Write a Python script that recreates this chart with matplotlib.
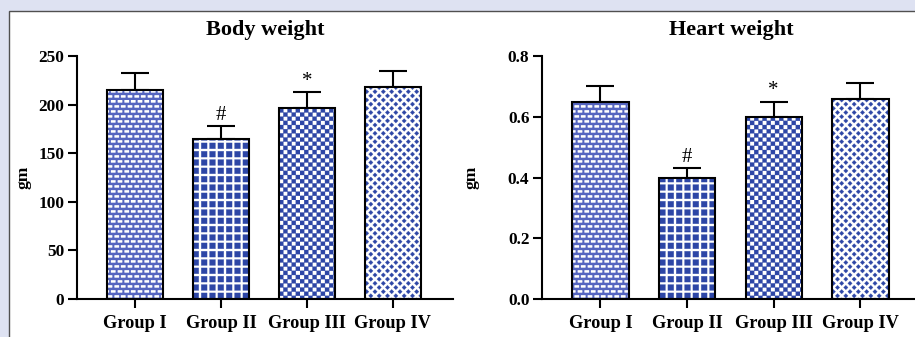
import numpy as np
import matplotlib
matplotlib.use("Agg")
import matplotlib.pyplot as plt
import matplotlib.hatch as mhatch
from matplotlib.path import Path
from matplotlib.patches import Rectangle

# ---------------- data ----------------
groups = ["Group I", "Group II", "Group III", "Group IV"]
body_weight = [215, 165, 197, 218]
body_err = [17, 13, 16, 17]
heart_weight = [0.65, 0.40, 0.60, 0.66]
heart_err = [0.05, 0.03, 0.05, 0.05]
body_marks = ["", "#", "*", ""]
heart_marks = ["", "#", "*", ""]
body_ticks = [0, 50, 100, 150, 200, 250]
heart_ticks = [0.0, 0.2, 0.4, 0.6, 0.8]

# ---------------- custom fill patterns (unit tile) ----------------
def _rect(x0, y0, w, h):
    return [(x0, y0), (x0 + w, y0), (x0 + w, y0 + h), (x0, y0 + h)]

def _diamond(cx, cy, r):
    return [(cx - r, cy), (cx, cy - r), (cx + r, cy), (cx, cy + r)]

def _wrap(polys):
    out = []
    for poly in polys:
        arr = np.array(poly)
        for dx in (-1, 0, 1):
            for dy in (-1, 0, 1):
                s = arr + [dx, dy]
                if s[:, 0].max() <= 0 or s[:, 0].min() >= 1:
                    continue
                if s[:, 1].max() <= 0 or s[:, 1].min() >= 1:
                    continue
                out.append(s)
    return out

def _bricks():
    polys = []
    rows, per = 20, 15
    for r in range(rows):
        y0 = r / rows
        polys.append(_rect(0.0, y0, 1.0, 0.021))
        for k in range(per):
            x = (k + 0.5 * (r % 2)) / per
            polys.append(_rect(x - 0.008, y0 + 0.021, 0.016, 1 / rows - 0.021))
    return polys

def _squares():
    n = 12
    p = 1 / n
    s = 0.058
    return [_rect(i * p + (p - s) / 2, j * p + (p - s) / 2, s, s)
            for i in range(n) for j in range(n)]

def _checker():
    n = 24
    p = 1 / n
    return [_rect(i * p, j * p, p, p)
            for i in range(n) for j in range(n) if (i + j) % 2 == 0]

def _diamonds():
    p = 1 / 12
    polys = []
    for j in range(24):
        for i in range(12):
            cx = (i + 0.5 * (j % 2)) * p
            cy = j * p / 2
            polys.append(_diamond(cx, cy, 0.022))
    return polys

_PATTERNS = {"--": _bricks, "++": _squares, "xx": _checker, "..": _diamonds}

class _TileHatch:
    def __init__(self, hatch, density):
        polys = _wrap(_PATTERNS[hatch]()) if hatch in _PATTERNS else []
        verts, codes = [], []
        for poly in polys:
            verts.extend(list(poly) + [poly[0]])
            codes.extend([Path.MOVETO] + [Path.LINETO] * (len(poly) - 1) + [Path.CLOSEPOLY])
        self.verts = np.array(verts, dtype=float).reshape(-1, 2)
        self.codes = np.array(codes, dtype=Path.code_type)
        self.num_vertices = len(self.verts)

    def set_vertices_and_codes(self, vertices, codes):
        vertices[:] = self.verts
        codes[:] = self.codes

mhatch._hatch_types[:] = [_TileHatch]

# ---------------- styling ----------------
plt.rcParams["font.family"] = ["Liberation Serif", "DejaVu Serif"]
plt.rcParams["hatch.linewidth"] = 0.2

BLUE = "#2d46a6"
BRICK = "#5565c0"
hatches = ["--", "++", "xx", ".."]
hatch_colors = [BRICK, BLUE, BLUE, BLUE]

fig = plt.figure(figsize=(9.15, 3.37), dpi=100)
fig.patch.set_facecolor("#dee2f2")
fig.patches.append(Rectangle((9 / 915, -0.2), 1.2, 0.2 + (337 - 11) / 337,
                             transform=fig.transFigure, facecolor="white",
                             edgecolor="#505050", lw=1.0, zorder=-5))

H = 243 / 337
B = 38 / 337
ax1 = fig.add_axes([77 / 915, B, 376 / 915, H])
ax2 = fig.add_axes([542 / 915, B, 379 / 915, H])


def panel(ax, title, vals, errs, marks, ticks, ymax, fmt, labx):
    ax.set_facecolor("none")
    x = np.arange(len(groups))
    w = 0.65
    for xi, v, h, hc in zip(x, vals, hatches, hatch_colors):
        ax.bar(xi, v, w, color="white", edgecolor=hc, linewidth=0, hatch=h, zorder=2)
    ax.bar(x, vals, w, fill=False, edgecolor="black", linewidth=1.5, zorder=3)
    ax.errorbar(x, vals, yerr=[np.zeros(len(vals)), errs], fmt="none",
                ecolor="black", elinewidth=1.5, capsize=10, capthick=1.5, zorder=1)
    for xi, v, e, m in zip(x, vals, errs, marks):
        if m:
            ax.annotate(m, xy=(xi, v + e), xytext=(0, 1), textcoords="offset points",
                        ha="center", va="bottom", fontsize=15)
    ax.set_xlim(-0.675, 3.7)
    ax.set_ylim(0, ymax)
    ax.set_yticks(ticks)
    ax.set_yticklabels([fmt.format(t) for t in ticks], fontsize=12.4, fontweight="bold")
    ax.set_xticks(x)
    ax.set_xticklabels(groups, fontsize=13.2, fontweight="bold")
    for s in ("top", "right"):
        ax.spines[s].set_visible(False)
    for s in ("left", "bottom"):
        ax.spines[s].set_linewidth(1.5)
    ax.tick_params(axis="both", direction="out", length=6.5, width=1.5, pad=2.5)
    ax.tick_params(axis="x", pad=5)
    ax.set_title(title, fontsize=16, fontweight="bold", pad=15)
    bb = ax.get_position()
    fig.text(labx / 915, bb.y0 + bb.height / 2, "gm", rotation=90, ha="center",
             va="center", fontsize=12.5, fontweight="bold")


panel(ax1, "Body weight", body_weight, body_err, body_marks, body_ticks, 250, "{:d}", 23)
panel(ax2, "Heart weight", heart_weight, heart_err, heart_marks, heart_ticks, 0.8, "{:.1f}", 472)

fig.savefig("out.png", dpi=100)
